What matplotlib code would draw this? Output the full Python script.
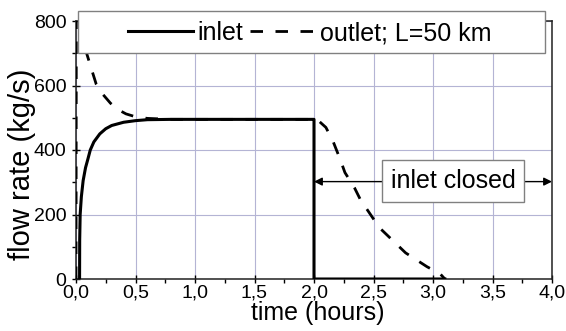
import matplotlib.pyplot as plt
import matplotlib.patches as patches
from matplotlib.ticker import MultipleLocator, FuncFormatter

plt.rcParams['font.family'] = ['Liberation Sans', 'DejaVu Sans']

# inlet flow rate (kg/s) vs time (hours)
t_in = [0.03, 0.031, 0.035, 0.045, 0.06, 0.08, 0.10, 0.12, 0.15, 0.20, 0.25, 0.30,
        0.40, 0.50, 0.60, 0.80, 1.00, 1.50, 1.99, 2.00, 2.00, 3.10]
q_in = [0, 120, 200, 255, 305, 345, 372, 400, 425, 450, 466, 476,
        486, 491, 494, 495, 495, 495, 495, 495, 0, 0]

# outlet flow rate, L = 50 km
t_out = [0.0, 0.003, 0.005, 0.04, 0.085, 0.13, 0.17, 0.22, 0.29, 0.35, 0.42, 0.50,
         0.60, 0.80, 2.00, 2.04, 2.10, 2.16, 2.22, 2.26, 2.34, 2.39, 2.55, 2.77,
         2.95, 3.06, 3.10]
q_out = [0, 900, 1000, 800, 705, 651, 604, 575, 545, 526, 512, 503,
         498, 495, 495, 490, 470, 427, 371, 330, 283, 246, 159, 81,
         38, 16, 0]

fig = plt.figure(figsize=(5.66, 3.31), dpi=100)
ax = fig.add_axes([76 / 566, 1 - 279 / 331, 476 / 566, 258 / 331])

l_in, = ax.plot(t_in, q_in, color='black', lw=2.2, zorder=3)
l_out, = ax.plot(t_out, q_out, color='black', lw=2.0, ls=(0, (4.5, 4.5)), zorder=3)

ax.set_xlim(0, 4)
ax.set_ylim(0, 800)
ax.xaxis.set_major_locator(MultipleLocator(0.5))
ax.xaxis.set_minor_locator(MultipleLocator(0.25))
ax.yaxis.set_major_locator(MultipleLocator(200))
ax.yaxis.set_minor_locator(MultipleLocator(100))
ax.xaxis.set_major_formatter(FuncFormatter(lambda v, p: f'{v:.1f}'.replace('.', ',')))
ax.grid(True, which='major', color='#b4b4d4', lw=0.8, zorder=0)
ax.set_axisbelow(True)

ax.tick_params(which='major', direction='inout', length=6, width=1, labelsize=14, pad=1)
ax.tick_params(axis='y', which='major', pad=4)
ax.tick_params(which='minor', direction='out', length=3, width=1)
for s in ax.spines.values():
    s.set_linewidth(1.1)
    s.set_color('#222222')

ax.set_xlabel('time (hours)', fontsize=18)
ax.set_ylabel('flow rate (kg/s)', fontsize=21)
ax.xaxis.set_label_coords(0.508, -0.13)
ax.xaxis.label.set_va('center')
ax.yaxis.set_label_coords(-0.113, 0.446)
ax.yaxis.label.set_va('center')

# "inlet closed" label with arrows out to t=2 and t=4
ax.annotate('', xy=(2.0, 302), xytext=(3.17, 302),
            arrowprops=dict(arrowstyle='-|>', color='black', lw=1, mutation_scale=12,
                            shrinkA=0, shrinkB=0), zorder=4)
ax.annotate('', xy=(4.0, 302), xytext=(3.17, 302),
            arrowprops=dict(arrowstyle='-|>', color='black', lw=1, mutation_scale=12,
                            shrinkA=0, shrinkB=0), zorder=4)
ax.text(3.168, 304, 'inlet closed', fontsize=18, ha='center', va='center', zorder=5,
        bbox=dict(boxstyle='square,pad=0.35', fc='white', ec='#808080', lw=1))

# legend box sits over the top of the plot
fig.patches.append(patches.Rectangle((78 / 566, 1 - 53 / 331), 467 / 566, 42 / 331,
                                     transform=fig.transFigure, fc='white',
                                     ec='#808080', lw=1, zorder=2))
fig.legend([l_in, l_out], ['inlet', 'outlet; L=50 km'], loc='center',
           bbox_to_anchor=(0.547, 0.9), ncol=2, frameon=False, fontsize=18,
           handlelength=2.6, handletextpad=0.2, columnspacing=0.25)

fig.savefig('out.png', dpi=100)
